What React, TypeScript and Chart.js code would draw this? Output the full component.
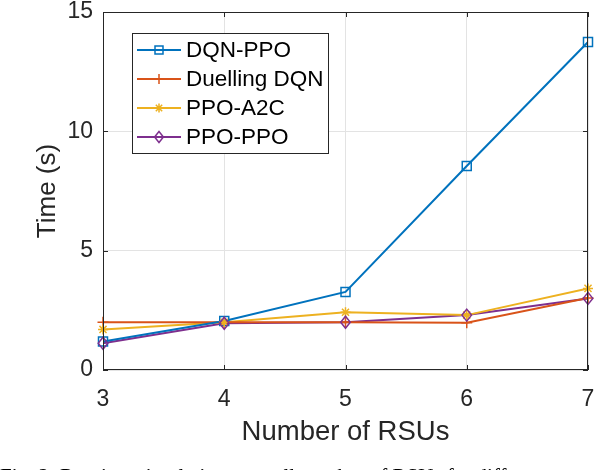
import React, { useEffect, useRef } from "react";
import { Chart, registerables } from "chart.js";

Chart.register(...registerables);

const rsus = [3, 4, 5, 6, 7];
const dqnPpo = [1.19, 2.05, 3.27, 8.55, 13.74];
const duellingDqn = [2.0, 2.0, 2.0, 1.98, 3.02];
const ppoA2c = [1.7, 2.0, 2.42, 2.3, 3.42];
const ppoPpo = [1.12, 1.96, 2.0, 2.3, 3.0];
const yTicks = [0, 5, 10, 15];
const xTicks = [3, 4, 5, 6, 7];

const seriesNames = ["DQN-PPO", "Duelling DQN", "PPO-A2C", "PPO-PPO"];
const seriesColors = ["#0072BD", "#D95319", "#EDB120", "#7E2F8E"];
const seriesMarkers = ["rect", "cross", "star", "rectRot"];
const seriesRadius = [4.5, 5.5, 5, 6];

const FONT = "'Liberation Sans', Arial, sans-serif";

function drawMarker(ctx: CanvasRenderingContext2D, kind: string, x: number, y: number, r: number, color: string) {
  ctx.save();
  ctx.strokeStyle = color;
  ctx.lineWidth = 1.5;
  ctx.beginPath();
  if (kind === "rect") {
    ctx.rect(x - r, y - r, 2 * r, 2 * r);
  } else if (kind === "cross") {
    ctx.moveTo(x - r, y); ctx.lineTo(x + r, y);
    ctx.moveTo(x, y - r); ctx.lineTo(x, y + r);
  } else if (kind === "star") {
    ctx.moveTo(x - r, y); ctx.lineTo(x + r, y);
    ctx.moveTo(x, y - r); ctx.lineTo(x, y + r);
    const d = r * 0.707;
    ctx.moveTo(x - d, y - d); ctx.lineTo(x + d, y + d);
    ctx.moveTo(x - d, y + d); ctx.lineTo(x + d, y - d);
  } else if (kind === "rectRot") {
    ctx.moveTo(x, y - r); ctx.lineTo(x + r * 0.8, y); ctx.lineTo(x, y + r); ctx.lineTo(x - r * 0.8, y); ctx.closePath();
  }
  ctx.stroke();
  ctx.restore();
}

const framePlugin = {
  id: "frame",
  afterDatasetsDraw(chart: any) {
    const ctx: CanvasRenderingContext2D = chart.ctx;
    const { left, right, top, bottom } = chart.chartArea;
    const xs = chart.scales.x;
    const ys = chart.scales.y;
    ctx.save();
    ctx.strokeStyle = "#262626";
    ctx.lineWidth = 1;
    ctx.strokeRect(left + 0.5, top + 0.5, right - left - 1, bottom - top - 1);
    ctx.beginPath();
    const tl = 5;
    xTicks.forEach((v) => {
      const px = Math.round(xs.getPixelForValue(v)) + 0.5;
      ctx.moveTo(px, bottom); ctx.lineTo(px, bottom - tl);
      ctx.moveTo(px, top); ctx.lineTo(px, top + tl);
    });
    yTicks.forEach((v) => {
      const py = Math.round(ys.getPixelForValue(v)) + 0.5;
      ctx.moveTo(left, py); ctx.lineTo(left + tl, py);
      ctx.moveTo(right, py); ctx.lineTo(right - tl, py);
    });
    ctx.stroke();

    // legend
    const bx = 132.5, by = 33.5, bw = 196, bh = 120;
    ctx.fillStyle = "#ffffff";
    ctx.fillRect(bx, by, bw, bh);
    ctx.strokeStyle = "#262626";
    ctx.strokeRect(bx, by, bw, bh);
    ctx.font = `22.5px ${FONT}`;
    ctx.textBaseline = "middle";
    ctx.textAlign = "left";
    seriesNames.forEach((name, i) => {
      const yy = 50 + i * 29;
      ctx.strokeStyle = seriesColors[i];
      ctx.lineWidth = 2;
      ctx.beginPath();
      ctx.moveTo(137, yy); ctx.lineTo(181, yy);
      ctx.stroke();
      drawMarker(ctx, seriesMarkers[i], 159, yy, seriesRadius[i] - 0.5, seriesColors[i]);
      ctx.fillStyle = "#000000";
      ctx.fillText(name, 186, yy + 1);
    });
    ctx.restore();
  },
};

const markerPlugin = {
  id: "markers",
  afterDatasetsDraw(chart: any) {
    const ctx: CanvasRenderingContext2D = chart.ctx;
    chart.data.datasets.forEach((ds: any, i: number) => {
      const meta = chart.getDatasetMeta(i);
      meta.data.forEach((pt: any) => {
        drawMarker(ctx, seriesMarkers[i], pt.x, pt.y, seriesRadius[i], seriesColors[i]);
      });
    });
  },
};

function zeroPad(s: any) {
  s.paddingLeft = 0;
  s.paddingRight = 0;
  s.paddingTop = 0;
  s.paddingBottom = 0;
}

export default function App() {
  const ref = useRef<HTMLCanvasElement | null>(null);
  useEffect(() => {
    if (!ref.current) return;
    const allSeries = [dqnPpo, duellingDqn, ppoA2c, ppoPpo];
    const chart = new Chart(ref.current, {
      type: "line",
      data: {
        datasets: allSeries.map((vals, i) => ({
          label: seriesNames[i],
          data: rsus.map((x, j) => ({ x, y: vals[j] })),
          borderColor: seriesColors[i],
          backgroundColor: seriesColors[i],
          borderWidth: 2,
          pointRadius: 0,
          tension: 0,
          fill: false,
        })),
      },
      options: {
        animation: false,
        responsive: false,
        devicePixelRatio: 1,
        layout: { autoPadding: false, padding: { top: 12, right: 8, left: 0, bottom: 0 } },
        plugins: { legend: { display: false }, tooltip: { enabled: false } },
        scales: {
          x: {
            type: "linear",
            min: 3,
            max: 7,
            afterFit: (s: any) => { s.height = 100; zeroPad(s); },
            afterBuildTicks: (s: any) => { s.ticks = xTicks.map((v) => ({ value: v })); },
            ticks: { color: "#262626", font: { family: FONT, size: 23 }, padding: 16 },
            grid: { color: "#e3e3e3", drawTicks: false },
            border: { display: false },
            title: { display: true, text: "Number of RSUs", color: "#262626", font: { family: FONT, size: 27.5 }, padding: { top: 0, bottom: 21 } },
          },
          y: {
            type: "linear",
            min: 0,
            max: 15,
            afterFit: (s: any) => { s.width = 103; zeroPad(s); },
            afterBuildTicks: (s: any) => { s.ticks = yTicks.map((v) => ({ value: v })); },
            ticks: { color: "#262626", font: { family: FONT, size: 23 }, padding: 10 },
            grid: { color: "#e3e3e3", drawTicks: false },
            border: { display: false },
            title: { display: true, text: "Time (s)", color: "#262626", font: { family: FONT, size: 26 }, padding: { top: 32, bottom: 0 } },
          },
        },
      },
      plugins: [markerPlugin, framePlugin],
    });
    return () => chart.destroy();
  }, []);

  return (
    <div style={{ position: "absolute", left: 0, top: 0, width: 596, height: 470, overflow: "hidden", background: "#fff" }}>
      <canvas ref={ref} width={596} height={470} style={{ position: "absolute", left: 0, top: 0 }} />
      <div
        style={{
          position: "absolute",
          left: 0,
          top: 464,
          whiteSpace: "nowrap",
          fontFamily: "'Liberation Serif', 'Times New Roman', serif",
          fontSize: 21,
          color: "#000",
        }}
      >
        Fig. 2: Runtime simulation over all number of RSUs for different
      </div>
    </div>
  );
}
